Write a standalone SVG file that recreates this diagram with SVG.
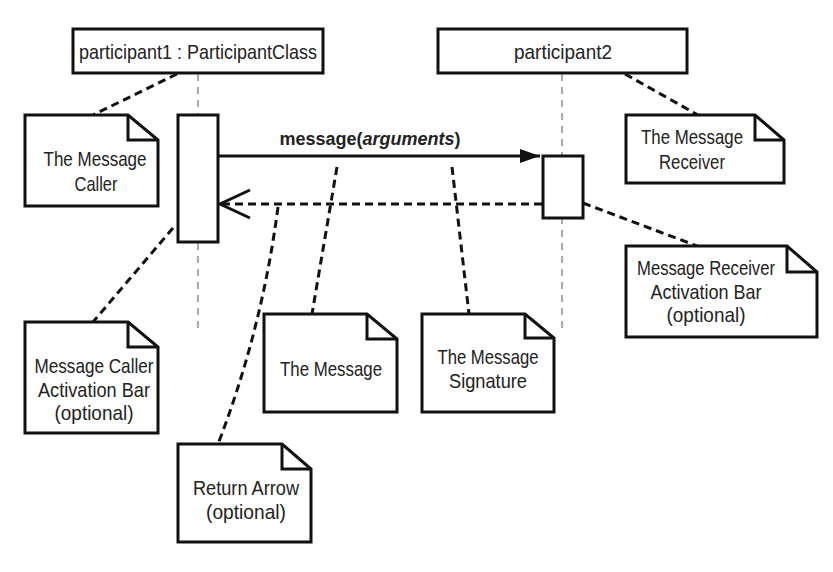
<svg xmlns="http://www.w3.org/2000/svg" width="833" height="572" viewBox="0 0 833 572">
<style>
.box{fill:#fff;stroke:#111;stroke-width:3}
.note{fill:#fff;stroke:#111;stroke-width:3;stroke-linejoin:miter}
.fold{fill:none;stroke:#111;stroke-width:3}
.life{fill:none;stroke:#aaa;stroke-width:2;stroke-dasharray:7,6}
.dash{fill:none;stroke:#111;stroke-width:3;stroke-dasharray:8,5}
.msg{fill:none;stroke:#111;stroke-width:3}
text{font-family:"Liberation Sans Narrow","Liberation Sans",Arial,sans-serif;font-size:21px;fill:#222;text-anchor:middle}
.b{font-weight:bold;font-size:18px}
</style>
<defs>
<marker id="filled" markerWidth="22" markerHeight="16" refX="20" refY="8" orient="auto" markerUnits="userSpaceOnUse">
<path d="M0,1 L20,8 L0,15 Z" fill="#111"/>
</marker>
</defs>
<rect width="833" height="572" fill="#fff"/>
<g id="lifelines">
<line class="life" x1="198" y1="74" x2="198" y2="330"/>
<line class="life" x1="562" y1="74" x2="562" y2="330"/>
</g>
<g id="connectors">
<line class="dash" x1="177" y1="74" x2="93" y2="115"/>
<line class="dash" x1="625" y1="74" x2="698" y2="115"/>
<line class="dash" x1="583" y1="203" x2="697" y2="246"/>
<line class="dash" x1="173" y1="228" x2="93" y2="322"/>
<line class="dash" x1="337" y1="167" x2="312" y2="314"/>
<line class="dash" x1="452" y1="167" x2="469" y2="314"/>
<path class="dash" d="M278,207 Q262,330 218,444"/>
<line class="msg" x1="218" y1="156" x2="540" y2="156" marker-end="url(#filled)"/>
<line class="dash" x1="542" y1="204" x2="222" y2="204"/>
<path class="msg" d="M250,190 L220,204 L250,218"/>
</g>
<g id="participant1">
<rect class="box" x="73" y="29" width="250" height="44"/>
<text x="198" y="59" textLength="238" lengthAdjust="spacingAndGlyphs">participant1 : ParticipantClass</text>
</g>
<g id="participant2">
<rect class="box" x="438" y="29" width="249" height="44"/>
<text x="563" y="59" textLength="98" lengthAdjust="spacingAndGlyphs">participant2</text>
</g>
<g id="activation1">
<rect class="box" x="178" y="115" width="40" height="127"/>
</g>
<g id="activation2">
<rect class="box" x="543" y="156" width="40" height="62"/>
</g>
<g id="message-label">
<text x="370" y="145" class="b">message(<tspan font-style="italic">arguments</tspan>)</text>
</g>
<g id="note-caller">
<path class="note" d="M25,115 H128 L158,140 V206 H25 Z"/>
<path class="fold" d="M128,115 V140 H158"/>
<text x="95" y="166" textLength="103" lengthAdjust="spacingAndGlyphs">The Message</text>
<text x="96" y="191" textLength="43" lengthAdjust="spacingAndGlyphs">Caller</text>
</g>
<g id="note-receiver">
<path class="note" d="M626,115 H755 L784,140 V183 H626 Z"/>
<path class="fold" d="M755,115 V140 H784"/>
<text x="692" y="144" textLength="102" lengthAdjust="spacingAndGlyphs">The Message</text>
<text x="692" y="169" textLength="66" lengthAdjust="spacingAndGlyphs">Receiver</text>
</g>
<g id="note-receiver-bar">
<path class="note" d="M626,246 H787 L817,272 V337 H626 Z"/>
<path class="fold" d="M787,246 V272 H817"/>
<text x="706" y="275" textLength="138" lengthAdjust="spacingAndGlyphs">Message Receiver</text>
<text x="706" y="299" textLength="111" lengthAdjust="spacingAndGlyphs">Activation Bar</text>
<text x="706" y="322" textLength="79" lengthAdjust="spacingAndGlyphs">(optional)</text>
</g>
<g id="note-caller-bar">
<path class="note" d="M25,322 H128 L158,347 V433 H25 Z"/>
<path class="fold" d="M128,322 V347 H158"/>
<text x="94" y="373" textLength="119" lengthAdjust="spacingAndGlyphs">Message Caller</text>
<text x="94" y="397" textLength="112" lengthAdjust="spacingAndGlyphs">Activation Bar</text>
<text x="94" y="420" textLength="79" lengthAdjust="spacingAndGlyphs">(optional)</text>
</g>
<g id="note-message">
<path class="note" d="M264,314 H367 L397,339 V412 H264 Z"/>
<path class="fold" d="M367,314 V339 H397"/>
<text x="331" y="376" textLength="102" lengthAdjust="spacingAndGlyphs">The Message</text>
</g>
<g id="note-signature">
<path class="note" d="M422,314 H525 L554,338 V412 H422 Z"/>
<path class="fold" d="M525,314 V338 H554"/>
<text x="488" y="364" textLength="101" lengthAdjust="spacingAndGlyphs">The Message</text>
<text x="488" y="388" textLength="78" lengthAdjust="spacingAndGlyphs">Signature</text>
</g>
<g id="note-return">
<path class="note" d="M178,444 H282 L311,469 V542 H178 Z"/>
<path class="fold" d="M282,444 V469 H311"/>
<text x="246" y="495" textLength="106" lengthAdjust="spacingAndGlyphs">Return Arrow</text>
<text x="246" y="519" textLength="80" lengthAdjust="spacingAndGlyphs">(optional)</text>
</g>
</svg>
